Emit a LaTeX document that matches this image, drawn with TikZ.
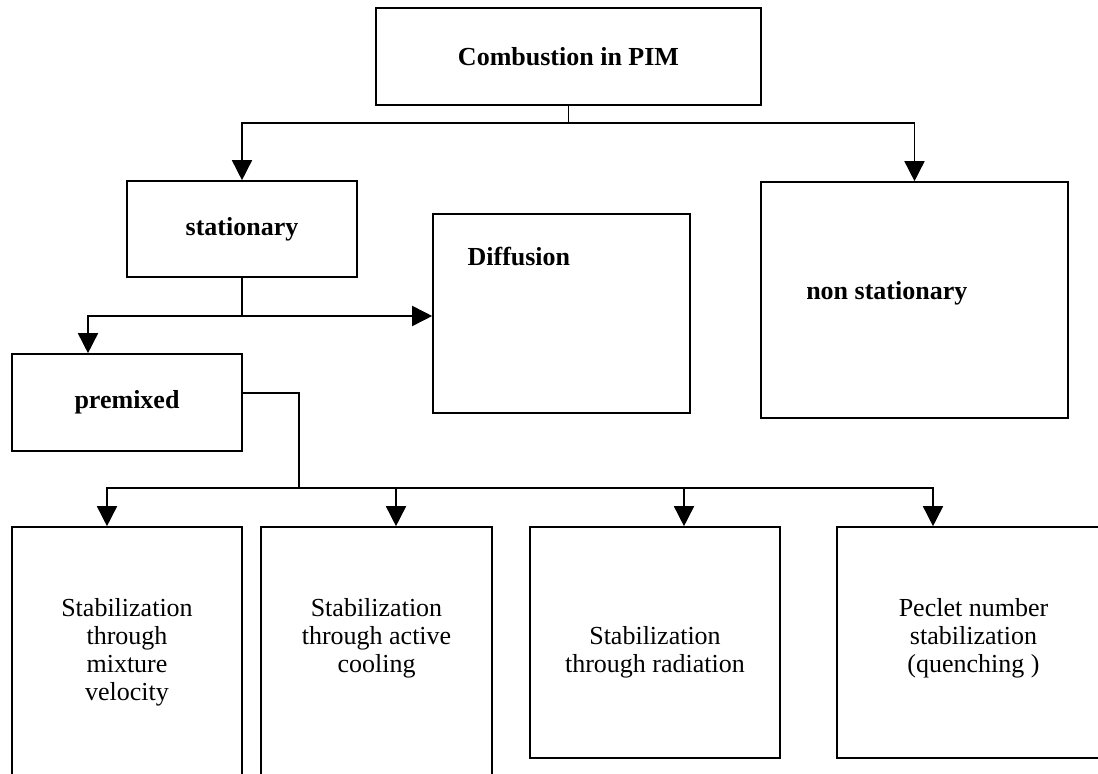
\documentclass[tikz,border=0pt]{standalone}
\usepackage{fontspec}
\setmainfont{Liberation Serif}
\usetikzlibrary{arrows.meta,positioning,calc}
\tikzstyle{block} = [draw, rectangle, line width=0.8pt, inner sep=0pt]
\tikzstyle{title} = [font=\fontsize{13}{14}\selectfont\bfseries]
\tikzstyle{leaftext} = [align=center, inner sep=0pt, font=\fontsize{13}{14}\selectfont]
\tikzstyle{line} = [draw, line width=0.8pt]

\begin{document}
\begin{tikzpicture}[x=0.5pt, y=-0.5pt, >={Triangle[width=10pt,length=10pt]}]
    \fill [white, use as bounding box] (0,0) rectangle (1098,774);
    % Upper boxes
    \node [block, title, minimum width=192.5pt, minimum height=48.5pt] (combustion) at (568.5,56.5) {Combustion in PIM};
    \node [block, title, minimum width=115pt, minimum height=48pt] (stationary) at (242,229) {stationary};
    \node [block, minimum width=153.5pt, minimum height=118pt] (nonstat) at (914.5,300) {};
    \node [block, minimum width=128.5pt, minimum height=99.5pt] (diffusion) at (561.5,313.5) {};
    \node [block, title, minimum width=115pt, minimum height=48.5pt] (premixed) at (127,402.5) {premixed};
    \node [title, right=19.5pt of nonstat.west, yshift=3.5pt] (nonstattext) {non stationary};
    \node [title, inner sep=0pt, below right=17pt and 17.5pt of diffusion.north west] (difftext) {Diffusion};

    % Lower boxes
    \node [block, minimum width=115pt, minimum height=136.5pt] (leafa) at (127,663.5) {};
    \node [block, minimum width=115.5pt, minimum height=136.5pt] (leafb) at (376.5,663.5) {};
    \node [block, minimum width=125pt, minimum height=115.5pt] (leafc) at (655,642.5) {};
    \node [block, minimum width=136.5pt, minimum height=115.5pt] (leafd) at (973.5,642.5) {};
    \node [leaftext, below=36pt of leafa.north] (leafatext) {Stabilization\\through\\mixture\\velocity};
    \node [leaftext, below=36pt of leafb.north] (leafbtext) {Stabilization\\through active\\cooling};
    \node [leaftext, below=50pt of leafc.north] (leafctext) {Stabilization\\through radiation};
    \node [leaftext, below=36pt of leafd.north] (leafdtext) {Peclet number\\stabilization\\(quenching )};

    % Connections
    \coordinate (split1) at (combustion.south |- 0,123);
    \draw [line] (combustion.south) -- (split1);
    \draw [line, ->] (split1) -| (stationary.north);
    \draw [line, ->] (split1) -| (nonstat.north);
    \coordinate (split2) at (stationary.south |- 0,316);
    \draw [line] (stationary.south) -- (split2);
    \draw [line, ->] (split2) -| (88,0 |- premixed.north);
    \draw [line, ->] (split2) -- (split2 -| diffusion.west);
    \coordinate (bus) at (299,488);
    \draw [line] (premixed.east |- 0,393) -| (bus);
    \foreach \x/\leaf in {107/leafa, 396/leafb, 684/leafc, 933/leafd}
        \draw [line, ->] (bus) -| (\x,0 |- \leaf.north);
\end{tikzpicture}
\end{document}
